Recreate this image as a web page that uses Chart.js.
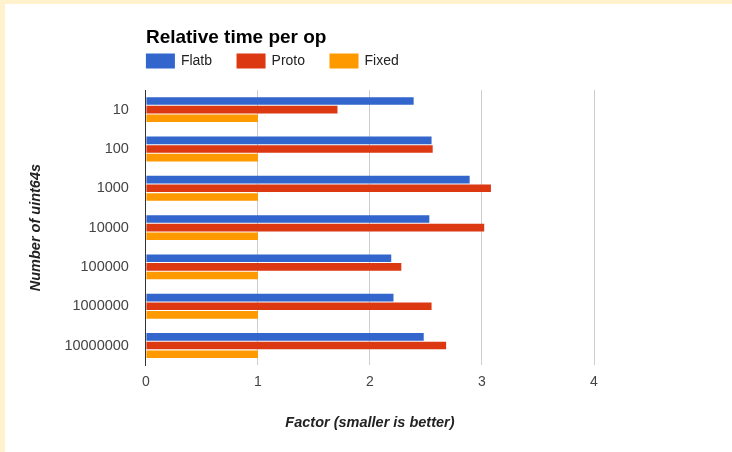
<!DOCTYPE html>
<html>
<head>
<meta charset="utf-8">
<script src="https://cdn.jsdelivr.net/npm/chart.js@4/dist/chart.umd.min.js"></script>
<style>
  html, body { margin: 0; padding: 0; background: #ffffff; }
  #wrap { position: absolute; left: 0; top: 0; width: 732px; height: 452px; background: #fff2cc; overflow: hidden; }
  #c { position: absolute; left: 5px; top: 4px; background: #ffffff; }
</style>
</head>
<body>
<div id="wrap"><canvas id="c" width="727" height="448"></canvas></div>
<script>
const chartTitle = 'Relative time per op';
const categories = ['10', '100', '1000', '10000', '100000', '1000000', '10000000'];
const flatb = [2.39, 2.55, 2.89, 2.53, 2.19, 2.21, 2.48];
const proto = [1.71, 2.56, 3.08, 3.02, 2.28, 2.55, 2.68];
const fixed = [1, 1, 1, 1, 1, 1, 1];
const seriesNames = ['Flatb', 'Proto', 'Fixed'];
const seriesColors = ['#3366cc', '#dc3912', '#ff9900'];
const xTitle = 'Factor (smaller is better)';
const yTitle = 'Number of uint64s';

const FONT = "'Liberation Sans', Arial, sans-serif";

const headerPlugin = {
  id: 'header',
  afterDraw(chart) {
    const ctx = chart.ctx;
    const left = chart.chartArea.left;
    ctx.save();
    ctx.fillStyle = '#000000';
    ctx.font = 'bold 19px ' + FONT;
    ctx.textBaseline = 'alphabetic';
    ctx.textAlign = 'left';
    ctx.fillText(chartTitle, left, 38.7);
    ctx.font = '14px ' + FONT;
    ctx.textBaseline = 'middle';
    let x = left;
    chart.data.datasets.forEach(ds => {
      ctx.fillStyle = ds.backgroundColor;
      ctx.fillRect(x, 49.5, 29, 15);
      ctx.fillStyle = '#222222';
      ctx.fillText(ds.label, x + 35, 57.5);
      x += 35 + ctx.measureText(ds.label).width + 24.5;
    });
    ctx.restore();
  }
};

const data = {
  labels: categories,
  datasets: [flatb, proto, fixed].map((vals, i) => ({
    label: seriesNames[i],
    data: vals,
    backgroundColor: seriesColors[i],
    borderWidth: 0,
    barPercentage: 0.88,
    categoryPercentage: 0.66
  }))
};

new Chart(document.getElementById('c'), {
  type: 'bar',
  data,
  plugins: [headerPlugin],
  options: {
    indexAxis: 'y',
    responsive: false,
    animation: false,
    events: [],
    layout: { padding: { top: 86, right: 138, bottom: 11, left: 0 } },
    plugins: {
      legend: { display: false },
      title: { display: false },
      tooltip: { enabled: false }
    },
    scales: {
      x: {
        min: 0,
        max: 4,
        ticks: {
          stepSize: 1,
          padding: 9,
          color: '#444444',
          font: { family: FONT, size: 14 }
        },
        grid: {
          drawTicks: false,
          color: ctx => (ctx.tick && ctx.tick.value === 0) ? 'rgba(0,0,0,0)' : '#cccccc',
          lineWidth: 1
        },
        border: { display: false },
        title: {
          display: true,
          text: xTitle,
          color: '#222222',
          font: { family: FONT, size: 14.5, weight: 'bold', style: 'italic' },
          padding: { top: 14.6, bottom: 9 }
        }
      },
      y: {
        ticks: {
          padding: 17,
          color: '#444444',
          font: { family: FONT, size: 14.5 }
        },
        grid: { display: false, drawTicks: false },
        border: { display: true, color: '#333333', width: 1 },
        title: {
          display: true,
          text: yTitle,
          color: '#222222',
          font: { family: FONT, size: 14.5, weight: 'bold', style: 'italic' },
          padding: { top: 22, bottom: 3 }
        }
      }
    }
  }
});
</script>
</body>
</html>
